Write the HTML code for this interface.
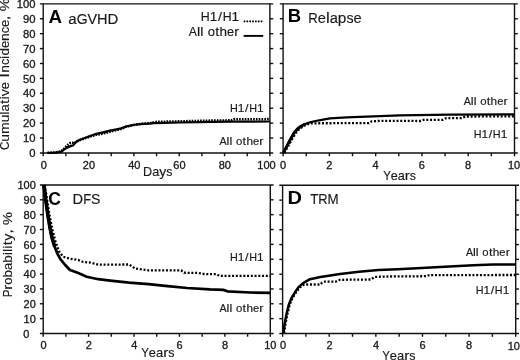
<!DOCTYPE html>
<html><head><meta charset="utf-8"><title>Figure</title>
<style>
html,body{margin:0;padding:0;background:#fff;}
body{width:520px;height:360px;overflow:hidden;}
svg{display:block;position:absolute;left:0;top:0;filter:grayscale(1);font-family:'Liberation Sans', sans-serif;}
</style></head><body>
<svg width="520" height="360" viewBox="0 0 520 360">
<rect x="0" y="0" width="520" height="360" fill="#fff"/>
<line x1="39.90" y1="3.85" x2="273.20" y2="3.85" stroke="#111" stroke-width="1.4" />
<line x1="43.20" y1="3.85" x2="43.20" y2="156.25" stroke="#111" stroke-width="1.4" />
<line x1="269.90" y1="3.85" x2="269.90" y2="156.25" stroke="#111" stroke-width="1.4" />
<line x1="39.90" y1="152.95" x2="273.20" y2="152.95" stroke="#111" stroke-width="1.4" />
<line x1="39.90" y1="18.76" x2="43.20" y2="18.76" stroke="#111" stroke-width="1.4" />
<line x1="269.90" y1="18.76" x2="273.20" y2="18.76" stroke="#111" stroke-width="1.4" />
<line x1="39.90" y1="33.67" x2="43.20" y2="33.67" stroke="#111" stroke-width="1.4" />
<line x1="269.90" y1="33.67" x2="273.20" y2="33.67" stroke="#111" stroke-width="1.4" />
<line x1="39.90" y1="48.58" x2="43.20" y2="48.58" stroke="#111" stroke-width="1.4" />
<line x1="269.90" y1="48.58" x2="273.20" y2="48.58" stroke="#111" stroke-width="1.4" />
<line x1="39.90" y1="63.49" x2="43.20" y2="63.49" stroke="#111" stroke-width="1.4" />
<line x1="269.90" y1="63.49" x2="273.20" y2="63.49" stroke="#111" stroke-width="1.4" />
<line x1="39.90" y1="78.40" x2="43.20" y2="78.40" stroke="#111" stroke-width="1.4" />
<line x1="269.90" y1="78.40" x2="273.20" y2="78.40" stroke="#111" stroke-width="1.4" />
<line x1="39.90" y1="93.31" x2="43.20" y2="93.31" stroke="#111" stroke-width="1.4" />
<line x1="269.90" y1="93.31" x2="273.20" y2="93.31" stroke="#111" stroke-width="1.4" />
<line x1="39.90" y1="108.22" x2="43.20" y2="108.22" stroke="#111" stroke-width="1.4" />
<line x1="269.90" y1="108.22" x2="273.20" y2="108.22" stroke="#111" stroke-width="1.4" />
<line x1="39.90" y1="123.13" x2="43.20" y2="123.13" stroke="#111" stroke-width="1.4" />
<line x1="269.90" y1="123.13" x2="273.20" y2="123.13" stroke="#111" stroke-width="1.4" />
<line x1="39.90" y1="138.04" x2="43.20" y2="138.04" stroke="#111" stroke-width="1.4" />
<line x1="269.90" y1="138.04" x2="273.20" y2="138.04" stroke="#111" stroke-width="1.4" />
<line x1="65.87" y1="152.95" x2="65.87" y2="156.25" stroke="#111" stroke-width="1.4" />
<line x1="88.54" y1="152.95" x2="88.54" y2="156.25" stroke="#111" stroke-width="1.4" />
<line x1="111.21" y1="152.95" x2="111.21" y2="156.25" stroke="#111" stroke-width="1.4" />
<line x1="133.88" y1="152.95" x2="133.88" y2="156.25" stroke="#111" stroke-width="1.4" />
<line x1="156.55" y1="152.95" x2="156.55" y2="156.25" stroke="#111" stroke-width="1.4" />
<line x1="179.22" y1="152.95" x2="179.22" y2="156.25" stroke="#111" stroke-width="1.4" />
<line x1="201.89" y1="152.95" x2="201.89" y2="156.25" stroke="#111" stroke-width="1.4" />
<line x1="224.56" y1="152.95" x2="224.56" y2="156.25" stroke="#111" stroke-width="1.4" />
<line x1="247.23" y1="152.95" x2="247.23" y2="156.25" stroke="#111" stroke-width="1.4" />
<line x1="279.80" y1="3.85" x2="517.80" y2="3.85" stroke="#111" stroke-width="1.4" />
<line x1="283.10" y1="3.85" x2="283.10" y2="156.25" stroke="#111" stroke-width="1.4" />
<line x1="514.50" y1="3.85" x2="514.50" y2="156.25" stroke="#111" stroke-width="1.4" />
<line x1="279.80" y1="152.95" x2="517.80" y2="152.95" stroke="#111" stroke-width="1.4" />
<line x1="279.80" y1="18.76" x2="283.10" y2="18.76" stroke="#111" stroke-width="1.4" />
<line x1="514.50" y1="18.76" x2="517.80" y2="18.76" stroke="#111" stroke-width="1.4" />
<line x1="279.80" y1="33.67" x2="283.10" y2="33.67" stroke="#111" stroke-width="1.4" />
<line x1="514.50" y1="33.67" x2="517.80" y2="33.67" stroke="#111" stroke-width="1.4" />
<line x1="279.80" y1="48.58" x2="283.10" y2="48.58" stroke="#111" stroke-width="1.4" />
<line x1="514.50" y1="48.58" x2="517.80" y2="48.58" stroke="#111" stroke-width="1.4" />
<line x1="279.80" y1="63.49" x2="283.10" y2="63.49" stroke="#111" stroke-width="1.4" />
<line x1="514.50" y1="63.49" x2="517.80" y2="63.49" stroke="#111" stroke-width="1.4" />
<line x1="279.80" y1="78.40" x2="283.10" y2="78.40" stroke="#111" stroke-width="1.4" />
<line x1="514.50" y1="78.40" x2="517.80" y2="78.40" stroke="#111" stroke-width="1.4" />
<line x1="279.80" y1="93.31" x2="283.10" y2="93.31" stroke="#111" stroke-width="1.4" />
<line x1="514.50" y1="93.31" x2="517.80" y2="93.31" stroke="#111" stroke-width="1.4" />
<line x1="279.80" y1="108.22" x2="283.10" y2="108.22" stroke="#111" stroke-width="1.4" />
<line x1="514.50" y1="108.22" x2="517.80" y2="108.22" stroke="#111" stroke-width="1.4" />
<line x1="279.80" y1="123.13" x2="283.10" y2="123.13" stroke="#111" stroke-width="1.4" />
<line x1="514.50" y1="123.13" x2="517.80" y2="123.13" stroke="#111" stroke-width="1.4" />
<line x1="279.80" y1="138.04" x2="283.10" y2="138.04" stroke="#111" stroke-width="1.4" />
<line x1="514.50" y1="138.04" x2="517.80" y2="138.04" stroke="#111" stroke-width="1.4" />
<line x1="306.24" y1="152.95" x2="306.24" y2="156.25" stroke="#111" stroke-width="1.4" />
<line x1="329.38" y1="152.95" x2="329.38" y2="156.25" stroke="#111" stroke-width="1.4" />
<line x1="352.52" y1="152.95" x2="352.52" y2="156.25" stroke="#111" stroke-width="1.4" />
<line x1="375.66" y1="152.95" x2="375.66" y2="156.25" stroke="#111" stroke-width="1.4" />
<line x1="398.80" y1="152.95" x2="398.80" y2="156.25" stroke="#111" stroke-width="1.4" />
<line x1="421.94" y1="152.95" x2="421.94" y2="156.25" stroke="#111" stroke-width="1.4" />
<line x1="445.08" y1="152.95" x2="445.08" y2="156.25" stroke="#111" stroke-width="1.4" />
<line x1="468.22" y1="152.95" x2="468.22" y2="156.25" stroke="#111" stroke-width="1.4" />
<line x1="491.36" y1="152.95" x2="491.36" y2="156.25" stroke="#111" stroke-width="1.4" />
<line x1="39.90" y1="184.95" x2="273.60" y2="184.95" stroke="#111" stroke-width="1.4" />
<line x1="43.20" y1="184.95" x2="43.20" y2="336.75" stroke="#111" stroke-width="1.4" />
<line x1="270.30" y1="184.95" x2="270.30" y2="336.75" stroke="#111" stroke-width="1.4" />
<line x1="39.90" y1="333.45" x2="273.60" y2="333.45" stroke="#111" stroke-width="1.4" />
<line x1="39.90" y1="199.80" x2="43.20" y2="199.80" stroke="#111" stroke-width="1.4" />
<line x1="270.30" y1="199.80" x2="273.60" y2="199.80" stroke="#111" stroke-width="1.4" />
<line x1="39.90" y1="214.65" x2="43.20" y2="214.65" stroke="#111" stroke-width="1.4" />
<line x1="270.30" y1="214.65" x2="273.60" y2="214.65" stroke="#111" stroke-width="1.4" />
<line x1="39.90" y1="229.50" x2="43.20" y2="229.50" stroke="#111" stroke-width="1.4" />
<line x1="270.30" y1="229.50" x2="273.60" y2="229.50" stroke="#111" stroke-width="1.4" />
<line x1="39.90" y1="244.35" x2="43.20" y2="244.35" stroke="#111" stroke-width="1.4" />
<line x1="270.30" y1="244.35" x2="273.60" y2="244.35" stroke="#111" stroke-width="1.4" />
<line x1="39.90" y1="259.20" x2="43.20" y2="259.20" stroke="#111" stroke-width="1.4" />
<line x1="270.30" y1="259.20" x2="273.60" y2="259.20" stroke="#111" stroke-width="1.4" />
<line x1="39.90" y1="274.05" x2="43.20" y2="274.05" stroke="#111" stroke-width="1.4" />
<line x1="270.30" y1="274.05" x2="273.60" y2="274.05" stroke="#111" stroke-width="1.4" />
<line x1="39.90" y1="288.90" x2="43.20" y2="288.90" stroke="#111" stroke-width="1.4" />
<line x1="270.30" y1="288.90" x2="273.60" y2="288.90" stroke="#111" stroke-width="1.4" />
<line x1="39.90" y1="303.75" x2="43.20" y2="303.75" stroke="#111" stroke-width="1.4" />
<line x1="270.30" y1="303.75" x2="273.60" y2="303.75" stroke="#111" stroke-width="1.4" />
<line x1="39.90" y1="318.60" x2="43.20" y2="318.60" stroke="#111" stroke-width="1.4" />
<line x1="270.30" y1="318.60" x2="273.60" y2="318.60" stroke="#111" stroke-width="1.4" />
<line x1="65.91" y1="333.45" x2="65.91" y2="336.75" stroke="#111" stroke-width="1.4" />
<line x1="88.62" y1="333.45" x2="88.62" y2="336.75" stroke="#111" stroke-width="1.4" />
<line x1="111.33" y1="333.45" x2="111.33" y2="336.75" stroke="#111" stroke-width="1.4" />
<line x1="134.04" y1="333.45" x2="134.04" y2="336.75" stroke="#111" stroke-width="1.4" />
<line x1="156.75" y1="333.45" x2="156.75" y2="336.75" stroke="#111" stroke-width="1.4" />
<line x1="179.46" y1="333.45" x2="179.46" y2="336.75" stroke="#111" stroke-width="1.4" />
<line x1="202.17" y1="333.45" x2="202.17" y2="336.75" stroke="#111" stroke-width="1.4" />
<line x1="224.88" y1="333.45" x2="224.88" y2="336.75" stroke="#111" stroke-width="1.4" />
<line x1="247.59" y1="333.45" x2="247.59" y2="336.75" stroke="#111" stroke-width="1.4" />
<line x1="279.30" y1="185.30" x2="519.00" y2="185.30" stroke="#111" stroke-width="1.4" />
<line x1="282.60" y1="185.30" x2="282.60" y2="336.80" stroke="#111" stroke-width="1.4" />
<line x1="515.70" y1="185.30" x2="515.70" y2="336.80" stroke="#111" stroke-width="1.4" />
<line x1="279.30" y1="333.50" x2="519.00" y2="333.50" stroke="#111" stroke-width="1.4" />
<line x1="279.30" y1="200.12" x2="282.60" y2="200.12" stroke="#111" stroke-width="1.4" />
<line x1="515.70" y1="200.12" x2="519.00" y2="200.12" stroke="#111" stroke-width="1.4" />
<line x1="279.30" y1="214.94" x2="282.60" y2="214.94" stroke="#111" stroke-width="1.4" />
<line x1="515.70" y1="214.94" x2="519.00" y2="214.94" stroke="#111" stroke-width="1.4" />
<line x1="279.30" y1="229.76" x2="282.60" y2="229.76" stroke="#111" stroke-width="1.4" />
<line x1="515.70" y1="229.76" x2="519.00" y2="229.76" stroke="#111" stroke-width="1.4" />
<line x1="279.30" y1="244.58" x2="282.60" y2="244.58" stroke="#111" stroke-width="1.4" />
<line x1="515.70" y1="244.58" x2="519.00" y2="244.58" stroke="#111" stroke-width="1.4" />
<line x1="279.30" y1="259.40" x2="282.60" y2="259.40" stroke="#111" stroke-width="1.4" />
<line x1="515.70" y1="259.40" x2="519.00" y2="259.40" stroke="#111" stroke-width="1.4" />
<line x1="279.30" y1="274.22" x2="282.60" y2="274.22" stroke="#111" stroke-width="1.4" />
<line x1="515.70" y1="274.22" x2="519.00" y2="274.22" stroke="#111" stroke-width="1.4" />
<line x1="279.30" y1="289.04" x2="282.60" y2="289.04" stroke="#111" stroke-width="1.4" />
<line x1="515.70" y1="289.04" x2="519.00" y2="289.04" stroke="#111" stroke-width="1.4" />
<line x1="279.30" y1="303.86" x2="282.60" y2="303.86" stroke="#111" stroke-width="1.4" />
<line x1="515.70" y1="303.86" x2="519.00" y2="303.86" stroke="#111" stroke-width="1.4" />
<line x1="279.30" y1="318.68" x2="282.60" y2="318.68" stroke="#111" stroke-width="1.4" />
<line x1="515.70" y1="318.68" x2="519.00" y2="318.68" stroke="#111" stroke-width="1.4" />
<line x1="305.91" y1="333.50" x2="305.91" y2="336.80" stroke="#111" stroke-width="1.4" />
<line x1="329.22" y1="333.50" x2="329.22" y2="336.80" stroke="#111" stroke-width="1.4" />
<line x1="352.53" y1="333.50" x2="352.53" y2="336.80" stroke="#111" stroke-width="1.4" />
<line x1="375.84" y1="333.50" x2="375.84" y2="336.80" stroke="#111" stroke-width="1.4" />
<line x1="399.15" y1="333.50" x2="399.15" y2="336.80" stroke="#111" stroke-width="1.4" />
<line x1="422.46" y1="333.50" x2="422.46" y2="336.80" stroke="#111" stroke-width="1.4" />
<line x1="445.77" y1="333.50" x2="445.77" y2="336.80" stroke="#111" stroke-width="1.4" />
<line x1="469.08" y1="333.50" x2="469.08" y2="336.80" stroke="#111" stroke-width="1.4" />
<line x1="492.39" y1="333.50" x2="492.39" y2="336.80" stroke="#111" stroke-width="1.4" />
<g font-size="10.34" font-weight="normal" fill="#1a1a1a" stroke="#1a1a1a" stroke-width="0.3">
<text x="16.75" y="8.10" textLength="6.26" lengthAdjust="spacingAndGlyphs">1</text>
<text x="23.01" y="8.10" textLength="6.26" lengthAdjust="spacingAndGlyphs">0</text>
<text x="29.28" y="8.10" textLength="6.26" lengthAdjust="spacingAndGlyphs">0</text>
</g>
<g font-size="10.34" font-weight="normal" fill="#1a1a1a" stroke="#1a1a1a" stroke-width="0.3">
<text x="23.01" y="22.99" textLength="6.26" lengthAdjust="spacingAndGlyphs">9</text>
<text x="29.28" y="22.99" textLength="6.26" lengthAdjust="spacingAndGlyphs">0</text>
</g>
<g font-size="10.34" font-weight="normal" fill="#1a1a1a" stroke="#1a1a1a" stroke-width="0.3">
<text x="23.01" y="37.88" textLength="6.26" lengthAdjust="spacingAndGlyphs">8</text>
<text x="29.28" y="37.88" textLength="6.26" lengthAdjust="spacingAndGlyphs">0</text>
</g>
<g font-size="10.34" font-weight="normal" fill="#1a1a1a" stroke="#1a1a1a" stroke-width="0.3">
<text x="23.01" y="52.77" textLength="6.26" lengthAdjust="spacingAndGlyphs">7</text>
<text x="29.28" y="52.77" textLength="6.26" lengthAdjust="spacingAndGlyphs">0</text>
</g>
<g font-size="10.34" font-weight="normal" fill="#1a1a1a" stroke="#1a1a1a" stroke-width="0.3">
<text x="23.01" y="67.66" textLength="6.26" lengthAdjust="spacingAndGlyphs">6</text>
<text x="29.28" y="67.66" textLength="6.26" lengthAdjust="spacingAndGlyphs">0</text>
</g>
<g font-size="10.34" font-weight="normal" fill="#1a1a1a" stroke="#1a1a1a" stroke-width="0.3">
<text x="23.01" y="82.55" textLength="6.26" lengthAdjust="spacingAndGlyphs">5</text>
<text x="29.28" y="82.55" textLength="6.26" lengthAdjust="spacingAndGlyphs">0</text>
</g>
<g font-size="10.34" font-weight="normal" fill="#1a1a1a" stroke="#1a1a1a" stroke-width="0.3">
<text x="23.01" y="97.44" textLength="6.26" lengthAdjust="spacingAndGlyphs">4</text>
<text x="29.28" y="97.44" textLength="6.26" lengthAdjust="spacingAndGlyphs">0</text>
</g>
<g font-size="10.34" font-weight="normal" fill="#1a1a1a" stroke="#1a1a1a" stroke-width="0.3">
<text x="23.01" y="112.33" textLength="6.26" lengthAdjust="spacingAndGlyphs">3</text>
<text x="29.28" y="112.33" textLength="6.26" lengthAdjust="spacingAndGlyphs">0</text>
</g>
<g font-size="10.34" font-weight="normal" fill="#1a1a1a" stroke="#1a1a1a" stroke-width="0.3">
<text x="23.01" y="127.22" textLength="6.26" lengthAdjust="spacingAndGlyphs">2</text>
<text x="29.28" y="127.22" textLength="6.26" lengthAdjust="spacingAndGlyphs">0</text>
</g>
<g font-size="10.34" font-weight="normal" fill="#1a1a1a" stroke="#1a1a1a" stroke-width="0.3">
<text x="23.01" y="142.11" textLength="6.26" lengthAdjust="spacingAndGlyphs">1</text>
<text x="29.28" y="142.11" textLength="6.26" lengthAdjust="spacingAndGlyphs">0</text>
</g>
<g font-size="10.34" font-weight="normal" fill="#1a1a1a" stroke="#1a1a1a" stroke-width="0.3">
<text x="29.28" y="157.00" textLength="6.26" lengthAdjust="spacingAndGlyphs">0</text>
</g>
<g font-size="10.08" font-weight="normal" fill="#1a1a1a" stroke="#1a1a1a" stroke-width="0.3">
<text x="17.51" y="189.20" textLength="6.11" lengthAdjust="spacingAndGlyphs">1</text>
<text x="23.62" y="189.20" textLength="6.11" lengthAdjust="spacingAndGlyphs">0</text>
<text x="29.72" y="189.20" textLength="6.11" lengthAdjust="spacingAndGlyphs">0</text>
</g>
<g font-size="10.08" font-weight="normal" fill="#1a1a1a" stroke="#1a1a1a" stroke-width="0.3">
<text x="23.62" y="204.03" textLength="6.11" lengthAdjust="spacingAndGlyphs">9</text>
<text x="29.72" y="204.03" textLength="6.11" lengthAdjust="spacingAndGlyphs">0</text>
</g>
<g font-size="10.08" font-weight="normal" fill="#1a1a1a" stroke="#1a1a1a" stroke-width="0.3">
<text x="23.62" y="218.86" textLength="6.11" lengthAdjust="spacingAndGlyphs">8</text>
<text x="29.72" y="218.86" textLength="6.11" lengthAdjust="spacingAndGlyphs">0</text>
</g>
<g font-size="10.08" font-weight="normal" fill="#1a1a1a" stroke="#1a1a1a" stroke-width="0.3">
<text x="23.62" y="233.69" textLength="6.11" lengthAdjust="spacingAndGlyphs">7</text>
<text x="29.72" y="233.69" textLength="6.11" lengthAdjust="spacingAndGlyphs">0</text>
</g>
<g font-size="10.08" font-weight="normal" fill="#1a1a1a" stroke="#1a1a1a" stroke-width="0.3">
<text x="23.62" y="248.52" textLength="6.11" lengthAdjust="spacingAndGlyphs">6</text>
<text x="29.72" y="248.52" textLength="6.11" lengthAdjust="spacingAndGlyphs">0</text>
</g>
<g font-size="10.08" font-weight="normal" fill="#1a1a1a" stroke="#1a1a1a" stroke-width="0.3">
<text x="23.62" y="263.35" textLength="6.11" lengthAdjust="spacingAndGlyphs">5</text>
<text x="29.72" y="263.35" textLength="6.11" lengthAdjust="spacingAndGlyphs">0</text>
</g>
<g font-size="10.08" font-weight="normal" fill="#1a1a1a" stroke="#1a1a1a" stroke-width="0.3">
<text x="23.62" y="278.18" textLength="6.11" lengthAdjust="spacingAndGlyphs">4</text>
<text x="29.72" y="278.18" textLength="6.11" lengthAdjust="spacingAndGlyphs">0</text>
</g>
<g font-size="10.08" font-weight="normal" fill="#1a1a1a" stroke="#1a1a1a" stroke-width="0.3">
<text x="23.62" y="293.01" textLength="6.11" lengthAdjust="spacingAndGlyphs">3</text>
<text x="29.72" y="293.01" textLength="6.11" lengthAdjust="spacingAndGlyphs">0</text>
</g>
<g font-size="10.08" font-weight="normal" fill="#1a1a1a" stroke="#1a1a1a" stroke-width="0.3">
<text x="23.62" y="307.84" textLength="6.11" lengthAdjust="spacingAndGlyphs">2</text>
<text x="29.72" y="307.84" textLength="6.11" lengthAdjust="spacingAndGlyphs">0</text>
</g>
<g font-size="10.08" font-weight="normal" fill="#1a1a1a" stroke="#1a1a1a" stroke-width="0.3">
<text x="23.62" y="322.67" textLength="6.11" lengthAdjust="spacingAndGlyphs">1</text>
<text x="29.72" y="322.67" textLength="6.11" lengthAdjust="spacingAndGlyphs">0</text>
</g>
<g font-size="10.08" font-weight="normal" fill="#1a1a1a" stroke="#1a1a1a" stroke-width="0.3">
<text x="23.37" y="337.50" textLength="6.11" lengthAdjust="spacingAndGlyphs">0</text>
</g>
<g font-size="10.08" font-weight="normal" fill="#1a1a1a" stroke="#1a1a1a" stroke-width="0.3">
<text x="40.65" y="168.95" textLength="6.11" lengthAdjust="spacingAndGlyphs">0</text>
</g>
<g font-size="10.08" font-weight="normal" fill="#1a1a1a" stroke="#1a1a1a" stroke-width="0.3">
<text x="82.81" y="168.95" textLength="6.11" lengthAdjust="spacingAndGlyphs">2</text>
<text x="88.92" y="168.95" textLength="6.11" lengthAdjust="spacingAndGlyphs">0</text>
</g>
<g font-size="10.08" font-weight="normal" fill="#1a1a1a" stroke="#1a1a1a" stroke-width="0.3">
<text x="128.24" y="168.95" textLength="6.11" lengthAdjust="spacingAndGlyphs">4</text>
<text x="134.35" y="168.95" textLength="6.11" lengthAdjust="spacingAndGlyphs">0</text>
</g>
<g font-size="10.08" font-weight="normal" fill="#1a1a1a" stroke="#1a1a1a" stroke-width="0.3">
<text x="173.37" y="168.95" textLength="6.11" lengthAdjust="spacingAndGlyphs">6</text>
<text x="179.48" y="168.95" textLength="6.11" lengthAdjust="spacingAndGlyphs">0</text>
</g>
<g font-size="10.08" font-weight="normal" fill="#1a1a1a" stroke="#1a1a1a" stroke-width="0.3">
<text x="218.69" y="168.95" textLength="6.11" lengthAdjust="spacingAndGlyphs">8</text>
<text x="224.80" y="168.95" textLength="6.11" lengthAdjust="spacingAndGlyphs">0</text>
</g>
<g font-size="10.08" font-weight="normal" fill="#1a1a1a" stroke="#1a1a1a" stroke-width="0.3">
<text x="257.31" y="168.95" textLength="6.11" lengthAdjust="spacingAndGlyphs">1</text>
<text x="263.42" y="168.95" textLength="6.11" lengthAdjust="spacingAndGlyphs">0</text>
<text x="269.52" y="168.95" textLength="6.11" lengthAdjust="spacingAndGlyphs">0</text>
</g>
<g font-size="10.08" font-weight="normal" fill="#1a1a1a" stroke="#1a1a1a" stroke-width="0.3">
<text x="279.95" y="168.65" textLength="6.11" lengthAdjust="spacingAndGlyphs">0</text>
</g>
<g font-size="10.08" font-weight="normal" fill="#1a1a1a" stroke="#1a1a1a" stroke-width="0.3">
<text x="326.21" y="168.65" textLength="6.11" lengthAdjust="spacingAndGlyphs">2</text>
</g>
<g font-size="10.08" font-weight="normal" fill="#1a1a1a" stroke="#1a1a1a" stroke-width="0.3">
<text x="372.50" y="168.65" textLength="6.11" lengthAdjust="spacingAndGlyphs">4</text>
</g>
<g font-size="10.08" font-weight="normal" fill="#1a1a1a" stroke="#1a1a1a" stroke-width="0.3">
<text x="418.69" y="168.65" textLength="6.11" lengthAdjust="spacingAndGlyphs">6</text>
</g>
<g font-size="10.08" font-weight="normal" fill="#1a1a1a" stroke="#1a1a1a" stroke-width="0.3">
<text x="464.99" y="168.65" textLength="6.11" lengthAdjust="spacingAndGlyphs">8</text>
</g>
<g font-size="10.08" font-weight="normal" fill="#1a1a1a" stroke="#1a1a1a" stroke-width="0.3">
<text x="507.96" y="168.85" textLength="6.11" lengthAdjust="spacingAndGlyphs">1</text>
<text x="514.07" y="168.85" textLength="6.11" lengthAdjust="spacingAndGlyphs">0</text>
</g>
<g font-size="10.08" font-weight="normal" fill="#1a1a1a" stroke="#1a1a1a" stroke-width="0.3">
<text x="40.45" y="348.75" textLength="6.11" lengthAdjust="spacingAndGlyphs">0</text>
</g>
<g font-size="10.08" font-weight="normal" fill="#1a1a1a" stroke="#1a1a1a" stroke-width="0.3">
<text x="85.85" y="348.75" textLength="6.11" lengthAdjust="spacingAndGlyphs">2</text>
</g>
<g font-size="10.08" font-weight="normal" fill="#1a1a1a" stroke="#1a1a1a" stroke-width="0.3">
<text x="131.28" y="348.75" textLength="6.11" lengthAdjust="spacingAndGlyphs">4</text>
</g>
<g font-size="10.08" font-weight="normal" fill="#1a1a1a" stroke="#1a1a1a" stroke-width="0.3">
<text x="176.61" y="348.75" textLength="6.11" lengthAdjust="spacingAndGlyphs">6</text>
</g>
<g font-size="10.08" font-weight="normal" fill="#1a1a1a" stroke="#1a1a1a" stroke-width="0.3">
<text x="222.05" y="348.75" textLength="6.11" lengthAdjust="spacingAndGlyphs">8</text>
</g>
<g font-size="10.08" font-weight="normal" fill="#1a1a1a" stroke="#1a1a1a" stroke-width="0.3">
<text x="264.19" y="348.75" textLength="6.11" lengthAdjust="spacingAndGlyphs">1</text>
<text x="270.30" y="348.75" textLength="6.11" lengthAdjust="spacingAndGlyphs">0</text>
</g>
<g font-size="10.08" font-weight="normal" fill="#1a1a1a" stroke="#1a1a1a" stroke-width="0.3">
<text x="280.05" y="349.15" textLength="6.11" lengthAdjust="spacingAndGlyphs">0</text>
</g>
<g font-size="10.08" font-weight="normal" fill="#1a1a1a" stroke="#1a1a1a" stroke-width="0.3">
<text x="326.55" y="349.15" textLength="6.11" lengthAdjust="spacingAndGlyphs">2</text>
</g>
<g font-size="10.08" font-weight="normal" fill="#1a1a1a" stroke="#1a1a1a" stroke-width="0.3">
<text x="373.08" y="349.15" textLength="6.11" lengthAdjust="spacingAndGlyphs">4</text>
</g>
<g font-size="10.08" font-weight="normal" fill="#1a1a1a" stroke="#1a1a1a" stroke-width="0.3">
<text x="419.51" y="349.15" textLength="6.11" lengthAdjust="spacingAndGlyphs">6</text>
</g>
<g font-size="10.08" font-weight="normal" fill="#1a1a1a" stroke="#1a1a1a" stroke-width="0.3">
<text x="466.05" y="349.15" textLength="6.11" lengthAdjust="spacingAndGlyphs">8</text>
</g>
<g font-size="10.08" font-weight="normal" fill="#1a1a1a" stroke="#1a1a1a" stroke-width="0.3">
<text x="507.66" y="349.85" textLength="6.11" lengthAdjust="spacingAndGlyphs">1</text>
<text x="513.77" y="349.85" textLength="6.11" lengthAdjust="spacingAndGlyphs">0</text>
</g>
<g font-size="12.63" font-weight="normal" fill="#1a1a1a" stroke="#1a1a1a" stroke-width="0.15">
<text x="143.07" y="176.10" textLength="9.10" lengthAdjust="spacingAndGlyphs">D</text>
<text x="152.16" y="176.10" textLength="7.09" lengthAdjust="spacingAndGlyphs">a</text>
<text x="159.26" y="176.10" textLength="6.99" lengthAdjust="spacingAndGlyphs">y</text>
<text x="166.24" y="176.10" textLength="6.15" lengthAdjust="spacingAndGlyphs">s</text>
</g>
<g font-size="12.63" font-weight="normal" fill="#1a1a1a" stroke="#1a1a1a" stroke-width="0.15">
<text x="383.14" y="179.60" textLength="7.75" lengthAdjust="spacingAndGlyphs">Y</text>
<text x="390.65" y="179.60" textLength="7.03" lengthAdjust="spacingAndGlyphs">e</text>
<text x="397.68" y="179.60" textLength="7.09" lengthAdjust="spacingAndGlyphs">a</text>
<text x="404.77" y="179.60" textLength="5.04" lengthAdjust="spacingAndGlyphs">r</text>
<text x="409.81" y="179.60" textLength="6.15" lengthAdjust="spacingAndGlyphs">s</text>
</g>
<g font-size="12.60" font-weight="normal" fill="#1a1a1a" stroke="#1a1a1a" stroke-width="0.15">
<text x="141.25" y="356.90" textLength="7.73" lengthAdjust="spacingAndGlyphs">Y</text>
<text x="148.80" y="356.90" textLength="7.15" lengthAdjust="spacingAndGlyphs">e</text>
<text x="155.95" y="356.90" textLength="7.21" lengthAdjust="spacingAndGlyphs">a</text>
<text x="163.17" y="356.90" textLength="5.12" lengthAdjust="spacingAndGlyphs">r</text>
<text x="168.29" y="356.90" textLength="6.25" lengthAdjust="spacingAndGlyphs">s</text>
</g>
<g font-size="12.60" font-weight="normal" fill="#1a1a1a" stroke="#1a1a1a" stroke-width="0.15">
<text x="382.25" y="360.40" textLength="7.73" lengthAdjust="spacingAndGlyphs">Y</text>
<text x="389.80" y="360.40" textLength="7.15" lengthAdjust="spacingAndGlyphs">e</text>
<text x="396.95" y="360.40" textLength="7.21" lengthAdjust="spacingAndGlyphs">a</text>
<text x="404.17" y="360.40" textLength="5.12" lengthAdjust="spacingAndGlyphs">r</text>
<text x="409.29" y="360.40" textLength="6.25" lengthAdjust="spacingAndGlyphs">s</text>
</g>
<g transform="translate(8.80 150.00) rotate(-90)" font-size="12.60" font-weight="normal" fill="#1a1a1a" stroke="#1a1a1a" stroke-width="0.15">
<text x="0.00" y="0.00" textLength="8.38" lengthAdjust="spacingAndGlyphs">C</text>
<text x="8.38" y="0.00" textLength="7.60" lengthAdjust="spacingAndGlyphs">u</text>
<text x="15.97" y="0.00" textLength="11.68" lengthAdjust="spacingAndGlyphs">m</text>
<text x="27.65" y="0.00" textLength="7.60" lengthAdjust="spacingAndGlyphs">u</text>
<text x="35.24" y="0.00" textLength="3.29" lengthAdjust="spacingAndGlyphs">l</text>
<text x="38.53" y="0.00" textLength="7.21" lengthAdjust="spacingAndGlyphs">a</text>
<text x="45.97" y="0.00" textLength="4.27" lengthAdjust="spacingAndGlyphs">t</text>
<text x="50.47" y="0.00" textLength="3.29" lengthAdjust="spacingAndGlyphs">i</text>
<text x="53.76" y="0.00" textLength="7.10" lengthAdjust="spacingAndGlyphs">v</text>
<text x="60.86" y="0.00" textLength="7.15" lengthAdjust="spacingAndGlyphs">e</text>
<text x="72.63" y="0.00" textLength="4.27" lengthAdjust="spacingAndGlyphs">I</text>
<text x="77.29" y="0.00" textLength="7.60" lengthAdjust="spacingAndGlyphs">n</text>
<text x="84.89" y="0.00" textLength="6.25" lengthAdjust="spacingAndGlyphs">c</text>
<text x="91.14" y="0.00" textLength="3.29" lengthAdjust="spacingAndGlyphs">i</text>
<text x="94.43" y="0.00" textLength="7.48" lengthAdjust="spacingAndGlyphs">d</text>
<text x="101.90" y="0.00" textLength="7.15" lengthAdjust="spacingAndGlyphs">e</text>
<text x="109.06" y="0.00" textLength="7.60" lengthAdjust="spacingAndGlyphs">n</text>
<text x="116.65" y="0.00" textLength="6.25" lengthAdjust="spacingAndGlyphs">c</text>
<text x="122.90" y="0.00" textLength="7.15" lengthAdjust="spacingAndGlyphs">e</text>
<text x="130.10" y="0.00" textLength="4.27" lengthAdjust="spacingAndGlyphs">,</text>
<text x="138.65" y="0.00" textLength="12.91" lengthAdjust="spacingAndGlyphs">%</text>
</g>
<g transform="translate(11.70 297.10) rotate(-90)" font-size="12.60" font-weight="normal" fill="#1a1a1a" stroke="#1a1a1a" stroke-width="0.15">
<text x="-0.25" y="0.00" textLength="7.73" lengthAdjust="spacingAndGlyphs">P</text>
<text x="7.24" y="0.00" textLength="5.12" lengthAdjust="spacingAndGlyphs">r</text>
<text x="12.36" y="0.00" textLength="7.28" lengthAdjust="spacingAndGlyphs">o</text>
<text x="19.64" y="0.00" textLength="7.48" lengthAdjust="spacingAndGlyphs">b</text>
<text x="27.12" y="0.00" textLength="7.21" lengthAdjust="spacingAndGlyphs">a</text>
<text x="34.33" y="0.00" textLength="7.48" lengthAdjust="spacingAndGlyphs">b</text>
<text x="41.81" y="0.00" textLength="3.29" lengthAdjust="spacingAndGlyphs">i</text>
<text x="45.10" y="0.00" textLength="3.29" lengthAdjust="spacingAndGlyphs">l</text>
<text x="48.38" y="0.00" textLength="3.29" lengthAdjust="spacingAndGlyphs">i</text>
<text x="51.90" y="0.00" textLength="4.27" lengthAdjust="spacingAndGlyphs">t</text>
<text x="56.40" y="0.00" textLength="7.10" lengthAdjust="spacingAndGlyphs">y</text>
<text x="63.55" y="0.00" textLength="4.27" lengthAdjust="spacingAndGlyphs">,</text>
<text x="72.10" y="0.00" textLength="12.91" lengthAdjust="spacingAndGlyphs">%</text>
</g>
<g font-size="18.38" font-weight="bold" fill="#000" stroke="#000" stroke-width="0">
<text x="48.53" y="22.60" textLength="13.58" lengthAdjust="spacingAndGlyphs">A</text>
</g>
<g font-size="14.28" font-weight="normal" fill="#1a1a1a" stroke="#1a1a1a" stroke-width="0.15">
<text x="68.26" y="23.80" textLength="8.41" lengthAdjust="spacingAndGlyphs">a</text>
<text x="76.67" y="23.80" textLength="10.85" lengthAdjust="spacingAndGlyphs">G</text>
<text x="87.52" y="23.80" textLength="9.58" lengthAdjust="spacingAndGlyphs">V</text>
<text x="97.10" y="23.80" textLength="10.51" lengthAdjust="spacingAndGlyphs">H</text>
<text x="107.61" y="23.80" textLength="10.79" lengthAdjust="spacingAndGlyphs">D</text>
</g>
<g font-size="18.38" font-weight="bold" fill="#000" stroke="#000" stroke-width="0">
<text x="287.66" y="22.00" textLength="13.34" lengthAdjust="spacingAndGlyphs">B</text>
</g>
<g font-size="13.97" font-weight="normal" fill="#1a1a1a" stroke="#1a1a1a" stroke-width="0.15">
<text x="308.22" y="23.10" textLength="9.52" lengthAdjust="spacingAndGlyphs">R</text>
<text x="317.74" y="23.10" textLength="8.17" lengthAdjust="spacingAndGlyphs">e</text>
<text x="325.91" y="23.10" textLength="3.75" lengthAdjust="spacingAndGlyphs">l</text>
<text x="329.66" y="23.10" textLength="8.23" lengthAdjust="spacingAndGlyphs">a</text>
<text x="337.89" y="23.10" textLength="8.54" lengthAdjust="spacingAndGlyphs">p</text>
<text x="346.43" y="23.10" textLength="7.14" lengthAdjust="spacingAndGlyphs">s</text>
<text x="353.57" y="23.10" textLength="8.17" lengthAdjust="spacingAndGlyphs">e</text>
</g>
<g font-size="18.38" font-weight="bold" fill="#000" stroke="#000" stroke-width="0">
<text x="48.18" y="204.60" textLength="12.67" lengthAdjust="spacingAndGlyphs">C</text>
</g>
<g font-size="13.97" font-weight="normal" fill="#1a1a1a" stroke="#1a1a1a" stroke-width="0.15">
<text x="72.60" y="203.90" textLength="10.56" lengthAdjust="spacingAndGlyphs">D</text>
<text x="83.16" y="203.90" textLength="7.88" lengthAdjust="spacingAndGlyphs">F</text>
<text x="91.04" y="203.90" textLength="9.37" lengthAdjust="spacingAndGlyphs">S</text>
</g>
<g font-size="18.38" font-weight="bold" fill="#000" stroke="#000" stroke-width="0">
<text x="287.55" y="204.00" textLength="14.52" lengthAdjust="spacingAndGlyphs">D</text>
</g>
<g font-size="13.99" font-weight="normal" fill="#1a1a1a" stroke="#1a1a1a" stroke-width="0.15">
<text x="310.30" y="203.90" textLength="8.13" lengthAdjust="spacingAndGlyphs">T</text>
<text x="318.37" y="203.90" textLength="9.30" lengthAdjust="spacingAndGlyphs">R</text>
<text x="327.61" y="203.90" textLength="11.13" lengthAdjust="spacingAndGlyphs">M</text>
</g>
<g font-size="11.90" font-weight="normal" fill="#1a1a1a" stroke="#1a1a1a" stroke-width="0.15">
<text x="200.75" y="20.90" textLength="8.94" lengthAdjust="spacingAndGlyphs">H</text>
<text x="209.69" y="20.90" textLength="7.57" lengthAdjust="spacingAndGlyphs">1</text>
<text x="217.94" y="20.90" textLength="4.03" lengthAdjust="spacingAndGlyphs">/</text>
<text x="222.66" y="20.90" textLength="8.94" lengthAdjust="spacingAndGlyphs">H</text>
<text x="231.60" y="20.90" textLength="7.57" lengthAdjust="spacingAndGlyphs">1</text>
</g>
<g font-size="11.90" font-weight="normal" fill="#1a1a1a" stroke="#1a1a1a" stroke-width="0.15">
<text x="188.80" y="36.10" textLength="8.14" lengthAdjust="spacingAndGlyphs">A</text>
<text x="196.95" y="36.10" textLength="3.23" lengthAdjust="spacingAndGlyphs">l</text>
<text x="200.21" y="36.10" textLength="3.23" lengthAdjust="spacingAndGlyphs">l</text>
<text x="207.65" y="36.10" textLength="7.22" lengthAdjust="spacingAndGlyphs">o</text>
<text x="215.20" y="36.10" textLength="4.03" lengthAdjust="spacingAndGlyphs">t</text>
<text x="219.56" y="36.10" textLength="7.53" lengthAdjust="spacingAndGlyphs">h</text>
<text x="227.09" y="36.10" textLength="7.09" lengthAdjust="spacingAndGlyphs">e</text>
<text x="234.31" y="36.10" textLength="4.83" lengthAdjust="spacingAndGlyphs">r</text>
</g>
<line x1="243.6" y1="21.3" x2="263.2" y2="21.3" stroke="#000" stroke-width="1.8" stroke-dasharray="1.7 1.15"/>
<line x1="243.6" y1="35.9" x2="263.2" y2="35.9" stroke="#000" stroke-width="1.9"/>
<g font-size="10.40" font-weight="normal" fill="#1a1a1a" stroke="#1a1a1a" stroke-width="0.15">
<text x="230.01" y="111.80" textLength="7.81" lengthAdjust="spacingAndGlyphs">H</text>
<text x="237.82" y="111.80" textLength="6.61" lengthAdjust="spacingAndGlyphs">1</text>
<text x="245.03" y="111.80" textLength="3.53" lengthAdjust="spacingAndGlyphs">/</text>
<text x="249.16" y="111.80" textLength="7.81" lengthAdjust="spacingAndGlyphs">H</text>
<text x="256.97" y="111.80" textLength="6.61" lengthAdjust="spacingAndGlyphs">1</text>
</g>
<g font-size="10.40" font-weight="normal" fill="#1a1a1a" stroke="#1a1a1a" stroke-width="0.15">
<text x="219.51" y="145.10" textLength="7.11" lengthAdjust="spacingAndGlyphs">A</text>
<text x="226.64" y="145.10" textLength="2.82" lengthAdjust="spacingAndGlyphs">l</text>
<text x="229.49" y="145.10" textLength="2.82" lengthAdjust="spacingAndGlyphs">l</text>
<text x="235.99" y="145.10" textLength="6.31" lengthAdjust="spacingAndGlyphs">o</text>
<text x="242.58" y="145.10" textLength="3.53" lengthAdjust="spacingAndGlyphs">t</text>
<text x="246.40" y="145.10" textLength="6.58" lengthAdjust="spacingAndGlyphs">h</text>
<text x="252.98" y="145.10" textLength="6.20" lengthAdjust="spacingAndGlyphs">e</text>
<text x="259.29" y="145.10" textLength="4.23" lengthAdjust="spacingAndGlyphs">r</text>
</g>
<g font-size="10.40" font-weight="normal" fill="#1a1a1a" stroke="#1a1a1a" stroke-width="0.15">
<text x="463.71" y="105.10" textLength="7.11" lengthAdjust="spacingAndGlyphs">A</text>
<text x="470.84" y="105.10" textLength="2.82" lengthAdjust="spacingAndGlyphs">l</text>
<text x="473.69" y="105.10" textLength="2.82" lengthAdjust="spacingAndGlyphs">l</text>
<text x="480.19" y="105.10" textLength="6.31" lengthAdjust="spacingAndGlyphs">o</text>
<text x="486.78" y="105.10" textLength="3.53" lengthAdjust="spacingAndGlyphs">t</text>
<text x="490.60" y="105.10" textLength="6.58" lengthAdjust="spacingAndGlyphs">h</text>
<text x="497.18" y="105.10" textLength="6.20" lengthAdjust="spacingAndGlyphs">e</text>
<text x="503.49" y="105.10" textLength="4.23" lengthAdjust="spacingAndGlyphs">r</text>
</g>
<g font-size="10.40" font-weight="normal" fill="#1a1a1a" stroke="#1a1a1a" stroke-width="0.15">
<text x="473.71" y="138.40" textLength="7.81" lengthAdjust="spacingAndGlyphs">H</text>
<text x="481.52" y="138.40" textLength="6.61" lengthAdjust="spacingAndGlyphs">1</text>
<text x="488.73" y="138.40" textLength="3.53" lengthAdjust="spacingAndGlyphs">/</text>
<text x="492.86" y="138.40" textLength="7.81" lengthAdjust="spacingAndGlyphs">H</text>
<text x="500.67" y="138.40" textLength="6.61" lengthAdjust="spacingAndGlyphs">1</text>
</g>
<g font-size="10.40" font-weight="normal" fill="#1a1a1a" stroke="#1a1a1a" stroke-width="0.15">
<text x="230.01" y="260.90" textLength="7.81" lengthAdjust="spacingAndGlyphs">H</text>
<text x="237.82" y="260.90" textLength="6.61" lengthAdjust="spacingAndGlyphs">1</text>
<text x="245.03" y="260.90" textLength="3.53" lengthAdjust="spacingAndGlyphs">/</text>
<text x="249.16" y="260.90" textLength="7.81" lengthAdjust="spacingAndGlyphs">H</text>
<text x="256.97" y="260.90" textLength="6.61" lengthAdjust="spacingAndGlyphs">1</text>
</g>
<g font-size="10.40" font-weight="normal" fill="#1a1a1a" stroke="#1a1a1a" stroke-width="0.15">
<text x="219.51" y="312.10" textLength="7.11" lengthAdjust="spacingAndGlyphs">A</text>
<text x="226.64" y="312.10" textLength="2.82" lengthAdjust="spacingAndGlyphs">l</text>
<text x="229.49" y="312.10" textLength="2.82" lengthAdjust="spacingAndGlyphs">l</text>
<text x="235.99" y="312.10" textLength="6.31" lengthAdjust="spacingAndGlyphs">o</text>
<text x="242.58" y="312.10" textLength="3.53" lengthAdjust="spacingAndGlyphs">t</text>
<text x="246.40" y="312.10" textLength="6.58" lengthAdjust="spacingAndGlyphs">h</text>
<text x="252.98" y="312.10" textLength="6.20" lengthAdjust="spacingAndGlyphs">e</text>
<text x="259.29" y="312.10" textLength="4.23" lengthAdjust="spacingAndGlyphs">r</text>
</g>
<g font-size="10.40" font-weight="normal" fill="#1a1a1a" stroke="#1a1a1a" stroke-width="0.15">
<text x="465.91" y="255.90" textLength="7.11" lengthAdjust="spacingAndGlyphs">A</text>
<text x="473.04" y="255.90" textLength="2.82" lengthAdjust="spacingAndGlyphs">l</text>
<text x="475.89" y="255.90" textLength="2.82" lengthAdjust="spacingAndGlyphs">l</text>
<text x="482.39" y="255.90" textLength="6.31" lengthAdjust="spacingAndGlyphs">o</text>
<text x="488.98" y="255.90" textLength="3.53" lengthAdjust="spacingAndGlyphs">t</text>
<text x="492.80" y="255.90" textLength="6.58" lengthAdjust="spacingAndGlyphs">h</text>
<text x="499.38" y="255.90" textLength="6.20" lengthAdjust="spacingAndGlyphs">e</text>
<text x="505.69" y="255.90" textLength="4.23" lengthAdjust="spacingAndGlyphs">r</text>
</g>
<g font-size="10.40" font-weight="normal" fill="#1a1a1a" stroke="#1a1a1a" stroke-width="0.15">
<text x="475.71" y="294.30" textLength="7.81" lengthAdjust="spacingAndGlyphs">H</text>
<text x="483.52" y="294.30" textLength="6.61" lengthAdjust="spacingAndGlyphs">1</text>
<text x="490.73" y="294.30" textLength="3.53" lengthAdjust="spacingAndGlyphs">/</text>
<text x="494.86" y="294.30" textLength="7.81" lengthAdjust="spacingAndGlyphs">H</text>
<text x="502.67" y="294.30" textLength="6.61" lengthAdjust="spacingAndGlyphs">1</text>
</g>
<path d="M47.5 153.0 L55.4 152.7 L59.0 152.2 L61.5 151.6 L64.0 149.6 L66.5 147.9 L70.0 146.4 L73.0 145.4 L76.5 141.6 L80.0 139.7 L84.6 138.0 L90.0 136.0 L96.2 133.9 L103.0 132.4 L110.0 130.7 L117.7 129.1 L121.0 128.4 L125.4 126.7 L133.1 125.0 L140.8 124.1 L148.5 123.6 L153.8 123.1 L163.8 122.8 L179.2 122.5 L200.0 122.1 L230.0 121.7 L269.8 121.5" fill="none" stroke="#000" stroke-width="2.25" stroke-linejoin="round"/>
<path d="M47.5 152.8 L55.4 152.4 L59.0 151.8 L61.5 151.0 L64.5 148.4 L67.0 145.4 L70.2 142.9 L72.2 142.7 L74.0 143.4 L76.5 141.7 L80.0 140.0 L84.6 138.4 L90.0 136.6 L96.2 134.8 L103.0 133.6 L110.0 131.7 L117.7 129.8 L121.0 128.9 L125.4 127.0 L133.1 125.0 L140.8 123.8 L148.5 123.2 L152.0 123.0 L154.5 121.9 L180.0 121.3 L205.0 120.7 L231.0 120.3 L234.0 119.3 L269.8 119.1" fill="none" stroke="#000" stroke-width="2.5" stroke-linejoin="round" stroke-dasharray="1.65 1.15"/>
<path d="M283.4 153.0 L285.2 149.2 L287.2 145.6 L289.3 141.4 L291.6 137.2 L294.2 132.8 L297.2 129.2 L300.6 126.5 L305.0 124.1 L310.0 122.3 L315.5 121.0 L321.7 119.8 L330.0 118.3 L338.3 117.8 L346.7 117.3 L360.0 116.8 L400.0 115.4 L450.0 114.7 L514.0 114.4" fill="none" stroke="#000" stroke-width="2.25" stroke-linejoin="round"/>
<path d="M283.4 153.0 L285.2 149.2 L287.2 145.6 L289.3 141.4 L291.6 137.2 L294.2 132.8 L297.2 129.2 L300.6 126.5 L305.0 124.1" fill="none" stroke="#000" stroke-width="2.9" stroke-linejoin="round"/>
<path d="M284.4 153.0 L286.4 149.2 L288.6 145.4 L290.8 141.2 L293.2 137.2 L295.8 133.0 L298.8 129.6 L302.4 126.8 L306.5 124.6 L311.0 123.3 L369.0 123.1 L371.5 121.4 L381.0 120.8 L420.5 121.0 L423.5 119.9 L443.0 119.8 L446.0 118.2 L461.0 118.2 L466.0 116.5 L514.3 116.4" fill="none" stroke="#000" stroke-width="2.3" stroke-linejoin="round" stroke-dasharray="2 1.75"/>
<path d="M43.8 185.0 L44.9 193.0 L46.3 204.0 L48.0 216.0 L50.0 228.0 L52.2 238.3 L54.7 246.7 L57.2 253.3 L60.4 259.2 L65.2 265.0 L70.0 270.0 L78.3 273.0 L86.7 276.7 L98.3 279.2 L110.0 280.6 L129.2 282.7 L148.5 284.2 L167.7 286.2 L187.0 288.0 L210.0 289.4 L223.3 289.9 L227.5 291.3 L250.0 292.5 L270.0 292.8" fill="none" stroke="#000" stroke-width="2.7" stroke-linejoin="round"/>
<path d="M43.8 185.0 L44.9 193.0 L46.3 204.0 L48.0 216.0 L50.0 228.0 L52.2 238.3 L54.7 246.7" fill="none" stroke="#000" stroke-width="3.6" stroke-linejoin="round"/>
<path d="M44.8 185.0 L46.2 194.0 L48.0 206.0 L50.0 218.0 L52.5 230.0 L55.0 240.0 L57.3 246.7 L59.6 252.5 L63.3 256.7 L70.0 258.7 L78.3 260.0 L83.3 262.0 L90.0 262.5 L98.3 264.6 L129.2 264.5 L135.0 268.5 L148.5 270.4 L181.2 270.4 L184.0 272.7 L198.5 273.0 L205.0 274.2 L216.7 274.2 L219.2 275.8 L270.0 275.8" fill="none" stroke="#000" stroke-width="2.3" stroke-linejoin="round" stroke-dasharray="2 1.75"/>
<path d="M283.3 333.0 L284.9 322.2 L286.7 313.3 L288.9 304.4 L291.5 298.0 L295.0 292.3 L298.5 287.1 L303.1 283.1 L310.0 279.2 L320.4 277.1 L331.9 275.2 L340.0 274.0 L359.0 271.7 L378.5 270.0 L397.7 269.2 L417.0 268.3 L440.0 267.0 L473.3 265.2 L493.3 264.5 L515.4 264.4" fill="none" stroke="#000" stroke-width="2.5" stroke-linejoin="round"/>
<path d="M284.0 333.0 L285.8 322.0 L287.6 313.3 L289.8 304.4 L292.5 298.0 L296.0 292.5 L299.5 287.8 L303.0 285.0 L306.5 284.5 L320.4 284.5 L322.1 282.5 L323.8 281.7 L335.4 281.7 L337.7 280.5 L340.0 279.8 L370.8 279.5 L374.6 276.9 L388.0 276.5 L426.5 276.2 L429.4 275.1 L515.4 275.0" fill="none" stroke="#000" stroke-width="2.3" stroke-linejoin="round" stroke-dasharray="2 1.75"/>
</svg>
</body></html>
